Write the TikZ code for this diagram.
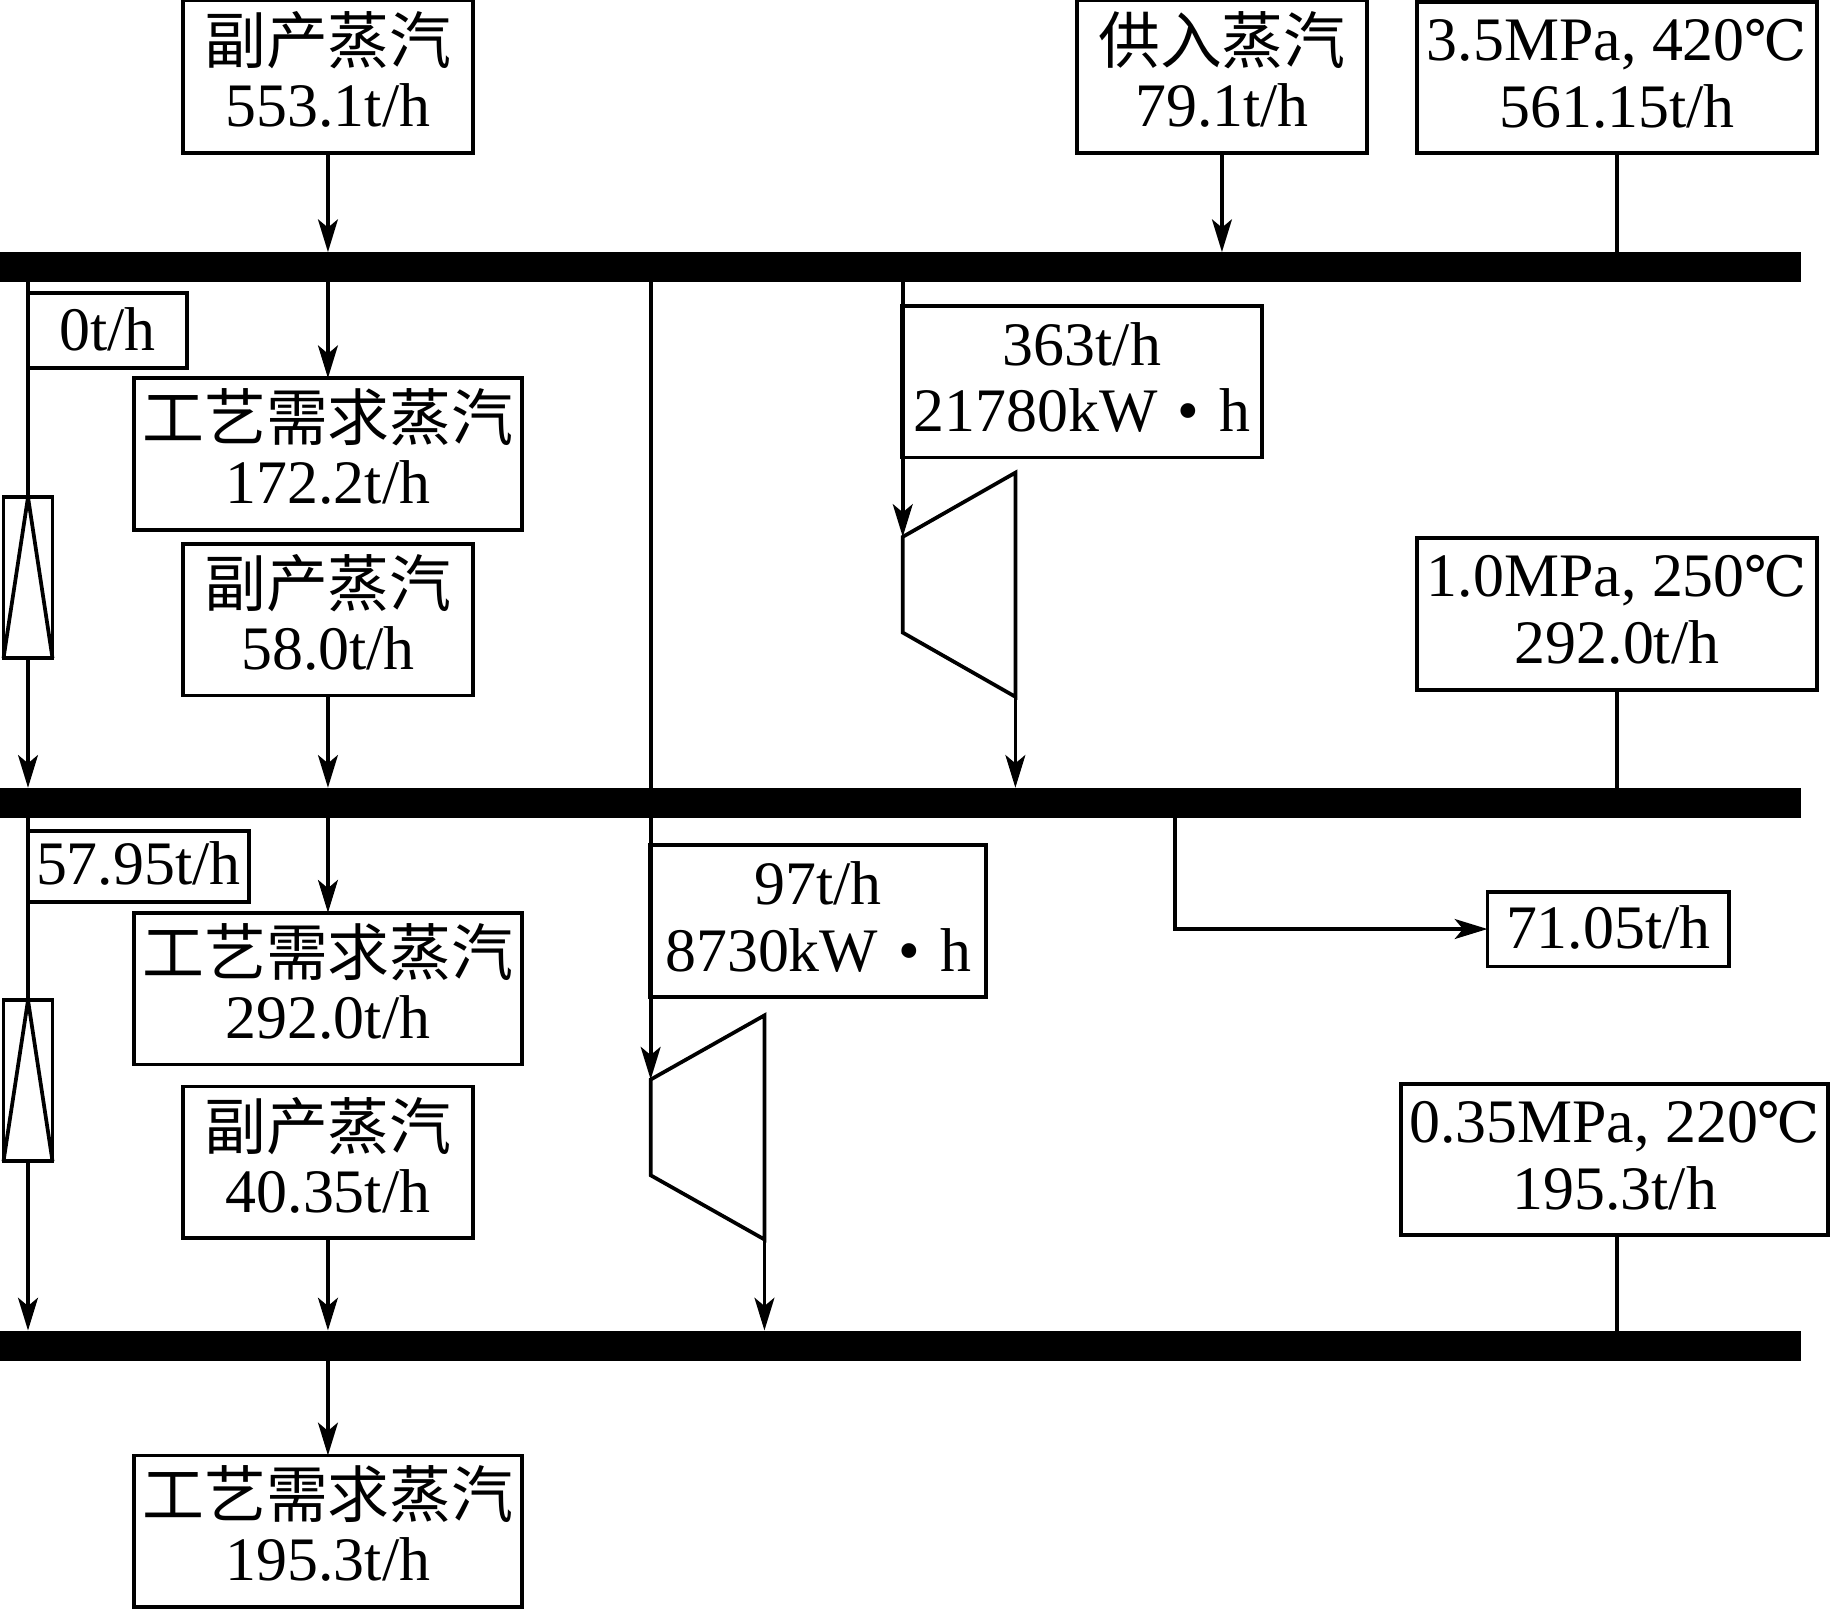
\documentclass[tikz,border=0pt]{standalone}
\usepackage{fontspec}
\setmainfont{Liberation Serif}
\newfontfamily\cjk{Noto Sans CJK SC}
\newfontfamily\symfont[Scale=0.9]{DejaVu Serif}
\usetikzlibrary{arrows.meta}
\newcommand{\zh}[1]{\raisebox{-3pt}{\cjk #1}}
\newcommand{\degC}{{\symfont ℃}}
\newcommand{\dotsep}{\makebox[1em][c]{\textbullet}}
% one line of text, whose baseline lies #1 below the line's own slot
\newcommand{\rowat}[2]{\raisebox{-#1}[0pt][0pt]{#2}}
\newcommand{\twolines}[3][14pt]{\rowat{#1}{#2}\\\rowat{#1}{#3}}
\tikzset{
  lbl/.style={draw=black,line width=3.2pt,fill=white,inner sep=0pt,outer sep=0pt,align=center,
    font=\fontsize{53}{57}\selectfont},
  busbar/.style={fill=black,draw=none,inner sep=0pt,outer sep=0pt,minimum width=1543pt,minimum height=26pt},
  exch/.style={draw=black,line width=3.2pt,fill=white,inner sep=0pt,outer sep=0pt,minimum width=42pt,minimum height=138pt},
  flow/.style={line width=3.2pt,-{Stealth[length=28pt,width=17pt,inset=7pt]}},
  plain/.style={line width=3.2pt},
  machine/.style={line width=3.2pt,line join=miter}
}
\begin{document}
\begin{tikzpicture}[x=1pt,y=-1pt]
\useasboundingbox (0,0) rectangle (1568,1379);
% buses
\node[busbar] (bus1) at (771.5,229) {};
\node[busbar] (bus2) at (771.5,688) {};
\node[busbar] (bus3) at (771.5,1153) {};
% top row
\node[lbl,minimum width=248pt,minimum height=131pt] (a) at (281,65.5) {\twolines{\zh{副产蒸汽}}{553.1t/h}};
\node[lbl,minimum width=249pt,minimum height=131pt] (b) at (1047,65.5) {\twolines{\zh{供入蒸汽}}{79.1t/h}};
\node[lbl,minimum width=343pt,minimum height=129pt] (c) at (1385.5,66.5) {\twolines{3.5MPa, 420\degC}{561.15t/h}};
% first section
\node[lbl,minimum width=137pt,minimum height=64pt] (r1) at (92,283) {\rowat{17.5pt}{0t/h}};
\node[lbl,minimum width=333pt,minimum height=130pt] (g1) at (281,389) {\twolines{\zh{工艺需求蒸汽}}{172.2t/h}};
\node[lbl,minimum width=248pt,minimum height=130pt] (f2) at (281,531) {\twolines{\zh{副产蒸汽}}{58.0t/h}};
\node[lbl,minimum width=308pt,minimum height=130pt] (p1) at (927,327) {\twolines[14.5pt]{363t/h}{21780kW\dotsep h}};
\node[lbl,minimum width=343pt,minimum height=130pt] (d) at (1385.5,526) {\twolines{1.0MPa, 250\degC}{292.0t/h}};
\node[exch] (e1) at (24,495) {};
% second section
\node[lbl,minimum width=190pt,minimum height=61pt] (r2) at (118.5,742.5) {\rowat{15pt}{57.95t/h}};
\node[lbl,minimum width=333pt,minimum height=130pt] (g2) at (281,847) {\twolines{\zh{工艺需求蒸汽}}{292.0t/h}};
\node[lbl,minimum width=248pt,minimum height=130pt] (f3) at (281,996) {\twolines{\zh{副产蒸汽}}{40.35t/h}};
\node[lbl,minimum width=288pt,minimum height=130pt] (p2) at (701,789) {\twolines[14.5pt]{97t/h}{8730kW\dotsep h}};
\node[lbl,minimum width=207pt,minimum height=64pt] (v) at (1378,796) {\rowat{17pt}{71.05t/h}};
\node[lbl,minimum width=366pt,minimum height=129pt] (s) at (1383.5,993.5) {\twolines{0.35MPa, 220\degC}{195.3t/h}};
\node[exch] (e2) at (24,926) {};
% last
\node[lbl,minimum width=333pt,minimum height=130pt] (g3) at (281,1312) {\twolines{\zh{工艺需求蒸汽}}{195.3t/h}};
% exchanger inner lines
\draw[plain,line join=miter] (e1.south west) -- (e1.north) -- (e1.south east);
\draw[plain,line join=miter] (e2.south west) -- (e2.north) -- (e2.south east);
% turbines
\coordinate (t1a) at (773.5,460);
\coordinate (t1b) at (870,405);
\coordinate (t1c) at (870,597);
\coordinate (t1d) at (773.5,542);
\draw[machine] (t1a) -- (t1b) -- (t1c) -- (t1d) -- cycle;
\coordinate (t2a) at (557.5,925);
\coordinate (t2b) at (655,870);
\coordinate (t2c) at (655,1062);
\coordinate (t2d) at (557.5,1007);
\draw[machine] (t2a) -- (t2b) -- (t2c) -- (t2d) -- cycle;
% into bus 1
\draw[flow] (a.south) -- (a.south |- bus1.north);
\draw[flow] (b.south) -- (b.south |- bus1.north);
\draw[plain] (c.south) -- (c.south |- bus1.north);
% bus 1 outlets
\draw[flow] (a.south |- bus1.south) -- (g1.north);
\draw[plain] (e1.north |- bus1.south) -- (e1.north);
\draw[flow] (e1.south) -- (e1.south |- bus2.north);
\draw[plain] (t2a |- bus1.south) -- (t2a |- bus2.north);
\draw[flow] (t1a |- bus1.south) -- (t1a);
\draw[flow] (t1c) -- (t1c |- bus2.north);
\draw[flow] (f2.south) -- (f2.south |- bus2.north);
\draw[plain] (d.south) -- (d.south |- bus2.north);
% bus 2 outlets
\draw[flow] (a.south |- bus2.south) -- (g2.north);
\draw[plain] (e2.north |- bus2.south) -- (e2.north);
\draw[flow] (e2.south) -- (e2.south |- bus3.north);
\draw[flow] (t2a |- bus2.south) -- (t2a);
\draw[flow] (t2c) -- (t2c |- bus3.north);
\draw[flow] (f3.south) -- (f3.south |- bus3.north);
\coordinate (elbow) at (1006.5,796);
\draw[flow] (elbow |- bus2.south) -- (elbow) -- (v.west);
\draw[plain] (d.south |- s.south) -- (d.south |- bus3.north);
% bus 3 outlet
\draw[flow] (a.south |- bus3.south) -- (g3.north);
\end{tikzpicture}
\end{document}
